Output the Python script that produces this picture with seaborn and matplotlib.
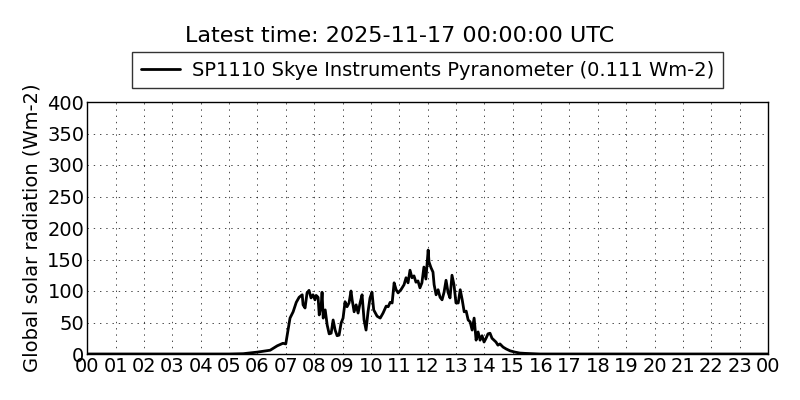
import matplotlib
matplotlib.use("Agg")
import matplotlib.pyplot as plt
import seaborn as sns
import pandas as pd

title_text = "Latest time: 2025-11-17 00:00:00 UTC"
series_label = "SP1110 Skye Instruments Pyranometer (0.111 Wm-2)"
ylabel_text = "Global solar radiation (Wm-2)"
hour_ticks = list(range(0, 25))
hour_labels = ["%02d" % (h % 24) for h in hour_ticks]

hours = [0, 5.0, 5.5, 6.0, 6.45, 6.7, 6.9, 7.0,
         7.08, 7.15, 7.26, 7.37, 7.47, 7.58, 7.61, 7.68, 7.75, 7.82, 7.89, 7.96,
         8.03, 8.07, 8.14, 8.18, 8.25, 8.28, 8.32, 8.39, 8.46, 8.53, 8.6, 8.67,
         8.74, 8.81, 8.88, 8.95, 9.02, 9.09, 9.16, 9.23, 9.3, 9.34, 9.41, 9.48,
         9.55, 9.62, 9.69, 9.76, 9.83, 9.9, 9.97, 10.04, 10.1, 10.22, 10.33,
         10.43, 10.54, 10.61, 10.68, 10.75, 10.82, 10.89, 10.96, 11.06, 11.17,
         11.24, 11.31, 11.38, 11.45, 11.52, 11.59, 11.66, 11.73, 11.8, 11.87,
         11.94, 12.02, 12.05, 12.12, 12.19, 12.23, 12.3, 12.37, 12.44, 12.51,
         12.58, 12.65, 12.72, 12.79, 12.86, 12.93, 13.0, 13.08, 13.15, 13.22,
         13.29, 13.36, 13.43, 13.5, 13.57, 13.64, 13.71, 13.78, 13.85, 13.92,
         13.99, 14.06, 14.13, 14.2, 14.27, 14.34, 14.41, 14.48, 14.55, 14.66,
         14.77, 14.91, 15.08, 15.25, 15.43, 15.96, 24]
radiation = [0, 0, 0.5, 3, 6, 13, 17, 16,
             38, 57, 67, 82, 90, 94, 78, 73, 97, 101, 89, 94,
             86, 93, 90, 62, 78, 98, 57, 70, 46, 32, 33, 54,
             38, 29, 30, 49, 57, 83, 75, 81, 100, 86, 67, 78,
             65, 81, 94, 54, 38, 67, 89, 98, 70, 60, 57,
             65, 76, 75, 82, 81, 113, 102, 97, 102, 110,
             121, 113, 133, 121, 124, 114, 116, 105, 113, 138,
             119, 165, 146, 137, 130, 110, 94, 102, 90, 86,
             98, 117, 98, 89, 125, 110, 81, 81, 102, 86,
             67, 68, 54, 51, 38, 57, 22, 35, 22, 29,
             19, 25, 32, 33, 25, 22, 19, 14, 16, 11,
             8, 5, 3, 1.5, 1, 0, 0]

df = pd.DataFrame({"hour": hours, "radiation": radiation})

sns.set_style("white")
plt.rcParams["font.family"] = ["DejaVu Sans"]
plt.rcParams["text.color"] = "black"
plt.rcParams["axes.labelcolor"] = "black"
plt.rcParams["xtick.color"] = "black"
plt.rcParams["ytick.color"] = "black"

fig = plt.figure(figsize=(8, 4), dpi=100)
ax = fig.add_axes([0.109, 0.115, 0.851, 0.63])
sns.lineplot(data=df, x="hour", y="radiation", ax=ax, color="black",
             linewidth=2, label=series_label)

ax.set_xlim(0, 24)
ax.set_ylim(0, 400)
ax.set_xticks(hour_ticks)
ax.set_xticklabels(hour_labels)
ax.set_yticks(range(0, 401, 50))
ax.tick_params(labelsize=14, direction="in", length=4, color="black",
               labelcolor="black", pad=2)
ax.set_xlabel("")
ax.set_ylabel(ylabel_text, fontsize=14, color="black")
ax.grid(True, color="black", linestyle=(0, (2, 7)), linewidth=0.5)
for s in ax.spines.values():
    s.set_color("black")
    s.set_linewidth(1)

leg = ax.legend(loc="lower center", bbox_to_anchor=(0.5, 1.015), fontsize=14,
                frameon=True, fancybox=False, handlelength=2.0,
                borderpad=0.45, handletextpad=0.6, borderaxespad=0.5)
leg.get_frame().set_edgecolor("black")
leg.get_frame().set_linewidth(1)
for t in leg.get_texts():
    t.set_color("black")

fig.suptitle(title_text, fontsize=16, y=0.935, color="black")
fig.savefig("out.png", dpi=100)
